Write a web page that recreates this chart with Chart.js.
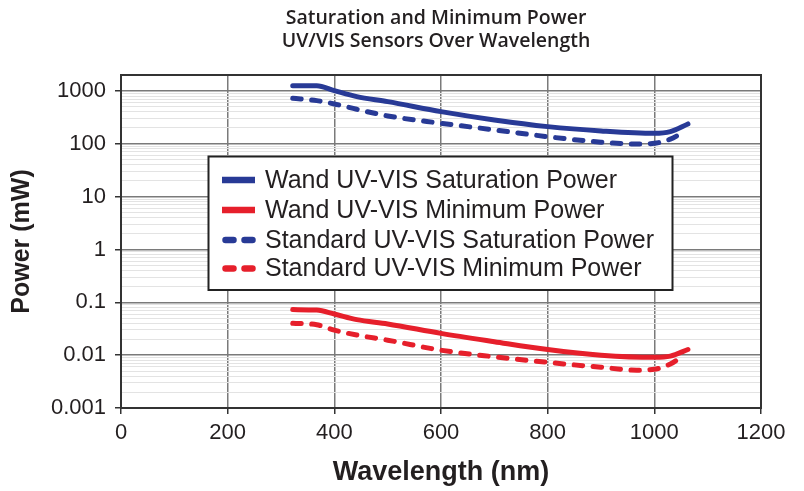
<!DOCTYPE html>
<html><head><meta charset="utf-8">
<script src="https://cdn.jsdelivr.net/npm/chart.js@4.4.0/dist/chart.umd.min.js"></script>
<style>html,body{margin:0;padding:0;background:#fff;}canvas{display:block;}</style>
</head><body>
<canvas id="c" width="804" height="491"></canvas>
<script>
// ---- text ----
const titleLines = ['Saturation and Minimum Power', 'UV/VIS Sensors Over Wavelength'];
const xAxisTitle = 'Wavelength (nm)';
const yAxisTitle = 'Power (mW)';
const seriesLabels = [
  'Wand UV-VIS Saturation Power',
  'Wand UV-VIS Minimum Power',
  'Standard UV-VIS Saturation Power',
  'Standard UV-VIS Minimum Power'
];

// ---- ticks ----
const xTickValues = [0, 200, 400, 600, 800, 1000, 1200];
const xTickLabels = ['0', '200', '400', '600', '800', '1000', '1200'];
const yDecades = [0.001, 0.01, 0.1, 1, 10, 100, 1000];
const yTickLabels = ['0.001', '0.01', '0.1', '1', '10', '100', '1000'];
const yMinorMultipliers = [2, 3, 4, 5, 6, 7, 8, 9];

// ---- data (wavelength nm, power mW) ----
const wandSatX = [322, 367, 400, 442, 500, 600, 700, 800, 900, 1000, 1030, 1063];
const wandSatY = [1250, 1250, 1010, 780, 627, 405, 282, 211, 175, 158, 170, 237];

const wandMinX = [322, 367, 400, 442, 500, 600, 700, 800, 900, 1000, 1030, 1063];
const wandMinY = [0.0727, 0.0712, 0.060, 0.047, 0.039, 0.0258, 0.018, 0.0128, 0.0100, 0.0091, 0.0096, 0.0128];

const stdSatX = [322, 367, 400, 442, 500, 600, 700, 800, 900, 967, 1000, 1030, 1051];
const stdSatY = [727, 655, 567, 450, 336, 244, 183, 136, 107, 99, 102, 122, 158];

const stdMinX = [322, 367, 400, 442, 500, 600, 700, 800, 900, 967, 1000, 1030, 1051];
const stdMinY = [0.040, 0.0376, 0.0298, 0.0240, 0.0192, 0.0124, 0.0093, 0.0073, 0.0059, 0.0052, 0.0054, 0.0068, 0.0093];

const BLUE = '#283a96';
const RED = '#e61f2b';
const TEXT = '#231f20';

function pts(xs, ys) { return xs.map((x, i) => ({ x: x, y: ys[i] })); }

const yTickValues = [];
yDecades.forEach(d => {
  yTickValues.push(d);
  if (d < 1000) yMinorMultipliers.forEach(m => yTickValues.push(+(d * m).toPrecision(6)));
});
yTickValues.push(2000);

function isDecade(v) {
  return yDecades.some(d => Math.abs(v - d) / d < 1e-6);
}

const DASH = [8.5, 10.5];

const frameAndLegend = {
  id: 'frameAndLegend',
  beforeDatasetsDraw(chart) {
    const { ctx, chartArea: a } = chart;
    ctx.save();
    ctx.strokeStyle = '#333';
    ctx.lineWidth = 2;
    ctx.strokeRect(a.left, a.top, a.right - a.left, a.bottom - a.top);
    ctx.restore();
  },
  afterDatasetsDraw(chart) {
    const ctx = chart.ctx;
    ctx.save();
    // legend box
    const bx = 208.5, by = 156.5, bw = 464, bh = 133.5;
    ctx.fillStyle = '#fff';
    ctx.fillRect(bx, by, bw, bh);
    ctx.strokeStyle = '#222';
    ctx.lineWidth = 2;
    ctx.strokeRect(bx, by, bw, bh);
    const rows = [180, 210, 240, 268.5];
    chart.data.datasets.forEach((ds, i) => {
      const y = rows[i];
      const dashed = ds.borderDash && ds.borderDash.length;
      ctx.strokeStyle = ds.borderColor;
      ctx.lineWidth = 6.5;
      ctx.lineCap = dashed ? 'round' : 'butt';
      ctx.setLineDash(dashed ? [8, 11] : []);
      ctx.beginPath();
      if (dashed) { ctx.moveTo(225.5, y); ctx.lineTo(252.5, y); }
      else { ctx.moveTo(222, y); ctx.lineTo(255, y); }
      ctx.stroke();
      ctx.setLineDash([]);
      ctx.fillStyle = TEXT;
      ctx.font = '25px "Liberation Sans", Arial, sans-serif';
      ctx.textBaseline = 'middle';
      ctx.textAlign = 'left';
      ctx.fillText(ds.label, 265, y + 1);
    });
    // title
    ctx.fillStyle = TEXT;
    ctx.font = '600 19.5px "Open Sans", sans-serif';
    ctx.textAlign = 'center';
    ctx.textBaseline = 'middle';
    ctx.fillText(titleLines[0], 436, 18);
    ctx.fillText(titleLines[1], 436, 41);
    ctx.restore();
  }
};

const common = { pointRadius: 0, borderWidth: 5, fill: false, cubicInterpolationMode: 'monotone', borderCapStyle: 'round', borderJoinStyle: 'round' };

new Chart(document.getElementById('c'), {
  type: 'line',
  data: {
    datasets: [
      Object.assign({ label: seriesLabels[0], data: pts(wandSatX, wandSatY), borderColor: BLUE, borderDash: [] }, common),
      Object.assign({ label: seriesLabels[1], data: pts(wandMinX, wandMinY), borderColor: RED, borderDash: [] }, common),
      Object.assign({ label: seriesLabels[2], data: pts(stdSatX, stdSatY), borderColor: BLUE, borderDash: DASH }, common),
      Object.assign({ label: seriesLabels[3], data: pts(stdMinX, stdMinY), borderColor: RED, borderDash: DASH }, common)
    ]
  },
  options: {
    responsive: false,
    animation: false,
    devicePixelRatio: 1,
    layout: { padding: { top: 75, right: 43, left: 0, bottom: 0 } },
    plugins: { legend: { display: false }, title: { display: false }, tooltip: { enabled: false } },
    scales: {
      x: {
        type: 'linear', min: 0, max: 1200,
        afterBuildTicks: s => { s.ticks = xTickValues.map(v => ({ value: v })); },
        afterFit: s => { s.height = 83; },
        grid: { color: '#7a7a7a', lineWidth: 1.5, tickLength: 6, tickColor: '#333', drawTicks: true },
        border: { display: false },
        ticks: {
          font: { family: 'Liberation Sans', size: 22 }, color: TEXT, padding: 6, maxRotation: 0, autoSkip: false,
          callback: v => { const i = xTickValues.indexOf(v); return i >= 0 ? xTickLabels[i] : ''; }
        },
        title: { display: true, text: xAxisTitle, font: { family: 'Liberation Sans', size: 27, weight: 'bold' }, color: TEXT, padding: { top: 0, bottom: 2 } }
      },
      y: {
        type: 'logarithmic', min: 0.001, max: 2000,
        afterBuildTicks: s => { s.ticks = yTickValues.map(v => ({ value: v, major: isDecade(v) })); },
        afterFit: s => { s.width = 121; },
        grid: {
          color: c => (c.tick && isDecade(c.tick.value)) ? '#7a7a7a' : '#e3e3e3',
          lineWidth: c => (c.tick && isDecade(c.tick.value)) ? 1.5 : 1,
          tickColor: c => (c.tick && isDecade(c.tick.value)) ? '#333' : 'rgba(0,0,0,0)',
          tickLength: 6, drawTicks: true
        },
        border: { display: false },
        ticks: {
          autoSkip: false,
          font: { family: 'Liberation Sans', size: 22 }, color: TEXT, padding: 9,
          callback: v => { const i = yDecades.findIndex(d => Math.abs(v - d) / d < 1e-6); return i >= 0 ? yTickLabels[i] : ''; }
        },
        title: { display: true, text: yAxisTitle, font: { family: 'Liberation Sans', size: 25, weight: 'bold' }, color: TEXT, padding: { top: 7, bottom: 0 } }
      }
    }
  },
  plugins: [frameAndLegend]
});
</script>
</body></html>
